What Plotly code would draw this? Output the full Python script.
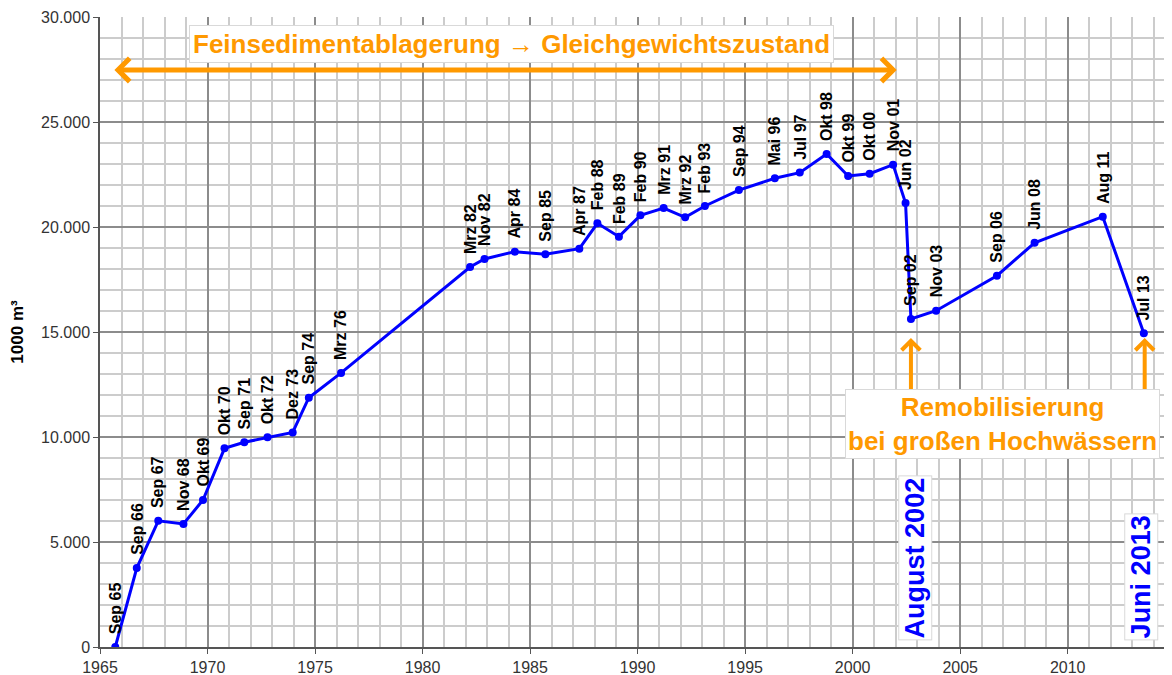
import plotly.graph_objects as go

# Daten: Zeitpunkt (Dezimaljahr), Volumen in 1000 m³, Beschriftung

jahr = [1965.71, 1966.71, 1967.71, 1968.88, 1969.79, 1970.79, 1971.71, 1972.79,
        1973.96, 1974.71, 1976.21, 1982.21, 1982.88, 1984.29, 1985.71, 1987.29,
        1988.13, 1989.13, 1990.13, 1991.21, 1992.21, 1993.13, 1994.71, 1996.38,
        1997.54, 1998.79, 1999.79, 2000.79, 2001.88, 2002.46, 2002.71, 2003.88,
        2006.71, 2008.46, 2011.63, 2013.54]

volumen = [0, 3760, 6010, 5860, 7000, 9460, 9750, 9985,
           10220, 11870, 13050, 18095, 18480, 18825, 18700, 18970,
           20175, 19540, 20555, 20900, 20460, 21000, 21760, 22320,
           22590, 23480, 22430, 22540, 22970, 21140, 15620, 16015,
           17680, 19250, 20490, 14940]

etiketten = ['Sep 65', 'Sep 66', 'Sep 67', 'Nov 68', 'Okt 69', 'Okt 70', 'Sep 71', 'Okt 72',
             'Dez 73', 'Sep 74', 'Mrz 76', 'Mrz 82', 'Nov 82', 'Apr 84', 'Sep 85', 'Apr 87',
             'Feb 88', 'Feb 89', 'Feb 90', 'Mrz 91', 'Mrz 92', 'Feb 93', 'Sep 94', 'Mai 96',
             'Jul 97', 'Okt 98', 'Okt 99', 'Okt 00', 'Nov 01', 'Jun 02', 'Sep 02', 'Nov 03',
             'Sep 06', 'Jun 08', 'Aug 11', 'Jul 13']

# Hochwasser-Ereignisse (x-Position der Pfeile)
hochwasser_x = [2002.71, 2013.58]
hochwasser_text = ['August 2002', 'Juni 2013']
hochwasser_text_x = [2002.89, 2013.40]

ORANGE = '#FF9900'
BLAU = '#0000FF'
FONT = 'Liberation Sans, Arial, sans-serif'

fig = go.Figure()

fig.add_trace(go.Scatter(
    x=jahr,
    y=volumen,
    mode='lines+markers',
    line=dict(color=BLAU, width=3),
    marker=dict(color=BLAU, size=8),
    hoverinfo='x+y',
    showlegend=False,
))

# Beschriftung der Messpunkte
for x, y, t in zip(jahr, volumen, etiketten):
    fig.add_annotation(
        x=x, y=y, text='<b>%s</b>' % t,
        showarrow=False, textangle=-90,
        xanchor='center', yanchor='bottom', yshift=11,
        font=dict(family=FONT, size=16, color='black'),
    )

# Feinsedimentablagerung
fig.add_annotation(
    x=1984.15, y=28710, text='<b>Feinsedimentablagerung → Gleichgewichtszustand</b>',
    showarrow=False, bgcolor='white', bordercolor='#d9d9d9', borderwidth=1, borderpad=3,
    font=dict(family=FONT, size=26, color=ORANGE),
)
fig.add_annotation(
    x=2002.05, y=27480, ax=1965.6, ay=27480, axref='x', ayref='y',
    text='', showarrow=True, arrowside='end+start',
    arrowhead=4, startarrowhead=4, arrowsize=0.9, startarrowsize=0.9,
    arrowwidth=5, arrowcolor=ORANGE,
)

# Remobilisierung
for x in hochwasser_x:
    fig.add_annotation(
        x=x, y=14714, ax=x, ay=12143, axref='x', ayref='y',
        text='', showarrow=True, arrowhead=4, arrowsize=0.9,
        arrowwidth=4, arrowcolor=ORANGE,
    )
fig.add_annotation(
    x=2006.98, y=10619,
    text='<b>Remobilisierung<br>bei großen Hochwässern</b>',
    showarrow=False, bgcolor='white', bordercolor='#d9d9d9', borderwidth=1, borderpad=2,
    font=dict(family=FONT, size=26, color=ORANGE),
)
for x, t in zip(hochwasser_text_x, hochwasser_text):
    fig.add_annotation(
        x=x, y=330, text='<b>%s</b>' % t,
        showarrow=False, textangle=-90, yanchor='bottom',
        bgcolor='white', bordercolor='#d9d9d9', borderwidth=1, borderpad=1,
        font=dict(family=FONT, size=27, color=BLAU),
    )

# Seite hat 8px Rand -> Figur etwas kleiner
fig.update_layout(
    width=1164, height=667,
    margin=dict(l=92, r=0, t=9, b=28),
    paper_bgcolor='white', plot_bgcolor='white',
    separators=',.',
    font=dict(family=FONT, size=16, color='#333333'),
    xaxis=dict(
        range=[1965, 2014.85], tick0=1965, dtick=5,
        showgrid=True, gridcolor='#8c8c8c', gridwidth=1.5,
        minor=dict(dtick=1, showgrid=True, gridcolor='#cccccc', gridwidth=2),
        showline=True, linecolor='#555555', linewidth=1.5,
        ticks='outside', ticklen=5, tickcolor='#555555',
        zeroline=False, automargin=False,
    ),
    yaxis=dict(
        range=[0, 30000], dtick=5000, tickformat=',d',
        showgrid=True, gridcolor='#8c8c8c', gridwidth=1.5,
        minor=dict(dtick=1000, showgrid=True, gridcolor='#cccccc', gridwidth=2),
        showline=True, linecolor='#555555', linewidth=1.5,
        ticks='outside', ticklen=5, tickcolor='#555555',
        zeroline=False, automargin=False,
        title=dict(text='<b>1000 m³</b>', standoff=25,
                   font=dict(family=FONT, size=17, color='black')),
    ),
)

fig.write_html('out.html')
